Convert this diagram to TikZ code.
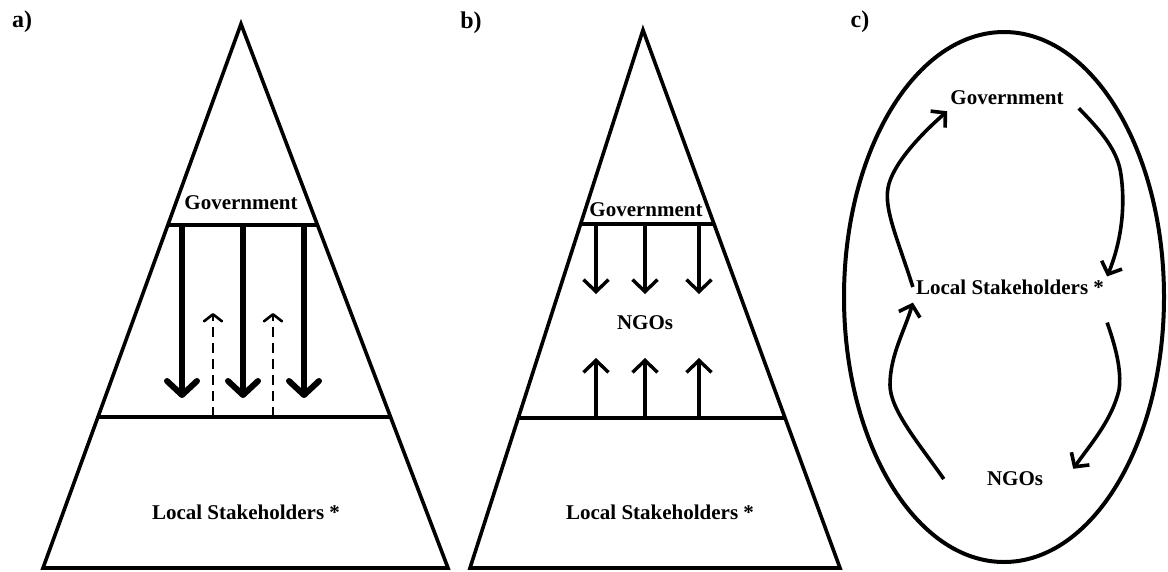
\documentclass[tikz,border=0pt]{standalone}
\usepackage{fontspec}
\setmainfont{Liberation Serif}
\usetikzlibrary{arrows.meta, calc}

\begin{document}
\begin{tikzpicture}[x=1pt, y=-1pt]
    \tikzstyle{lbl}  = [font=\fontsize{21}{24}\selectfont\bfseries, inner sep=3pt]
    \tikzstyle{pan}  = [font=\fontsize{24}{26}\selectfont\bfseries, inner sep=2pt]
    \tikzstyle{edge} = [line width=3.6pt, line join=miter]
    \tikzstyle{fat}  = [line width=6pt, -{Straight Barb[length=14pt, width=30pt, round]}]
    \tikzstyle{dsh}  = [line width=2.6pt, dash pattern=on 10pt off 6pt, -{Straight Barb[length=7pt, width=18pt, round]}]
    \tikzstyle{thin} = [line width=3.4pt, -{Straight Barb[length=12pt, width=25pt]}]
    \tikzstyle{loop} = [line width=3.6pt, -{Straight Barb[length=10pt, width=22pt]}]

    \useasboundingbox (0,0) rectangle (1168,571);

    % Etichetele panourilor
    \node[pan] (pa) at (22,22)  {a)};
    \node[pan] (pb) at (471,23) {b)};
    \node[pan] (pc) at (860,22) {c)};

    % a) piramida
    \coordinate (a1) at (241,24);
    \coordinate (a2) at (43,568);
    \coordinate (a3) at (448,568);
    \draw[edge] (a1) -- (a2) -- (a3) -- cycle;
    \draw[edge] ($(a1)!.37!(a2)$) -- ($(a1)!.37!(a3)$);
    \draw[edge] ($(a1)!.722!(a2)$) -- ($(a1)!.722!(a3)$);
    \node[lbl] (gova) at (241,203) {Government};
    \node[lbl] (loca) at (246,512) {Local Stakeholders *};

    % a) sagetile
    \foreach[count=\i] \x in {182,243,304} {
        \coordinate (ga\i) at (\x,225);
        \coordinate (sa\i) at (\x,398);
        \draw[fat] (ga\i) -- (sa\i);
    }
    \foreach[count=\i] \x in {213,273} {
        \coordinate (ua\i) at (\x,417);
        \coordinate (va\i) at (\x,313);
        \draw[dsh] (ua\i) -- (va\i);
    }

    % b) piramida
    \coordinate (b1) at (643,30);
    \coordinate (b2) at (470,568);
    \coordinate (b3) at (840,568);
    \draw[edge] (b1) -- (b2) -- (b3) -- cycle;
    \draw[edge] ($(b1)!.3606!(b2)$) -- ($(b1)!.3606!(b3)$);
    \draw[edge] ($(b1)!.7212!(b2)$) -- ($(b1)!.7212!(b3)$);
    \node[lbl] (govb) at (646,210) {Government};
    \node[lbl] (ngob) at (645,323) {NGOs};
    \node[lbl] (locb) at (660,512) {Local Stakeholders *};

    % b) sagetile
    \foreach[count=\i] \x in {596,645,699} {
        \coordinate (gb\i) at (\x,224);
        \coordinate (db\i) at (\x,294);
        \coordinate (lb\i) at (\x,418);
        \coordinate (ub\i) at (\x,358);
        \draw[thin] (gb\i) -- (db\i);
        \draw[thin] (lb\i) -- (ub\i);
    }

    % c) ciclul
    \draw[line width=4pt] (1004,297) ellipse [x radius=160pt, y radius=265pt];
    \node[lbl] (govc) at (1007,98)  {Government};
    \node[lbl] (locc) at (1010,287) {Local Stakeholders *};
    \node[lbl] (ngoc) at (1015,479) {NGOs};

    \draw[loop] (locc.west) .. controls (898,240) and (884,210) .. (888,188)
                .. controls (892,165) and (920,135) .. ([yshift=-3pt]govc.south west);
    \draw[loop] ([xshift=12pt]govc.south east) .. controls (1100,130) and (1118,150) .. (1121,175)
                .. controls (1126,210) and (1120,245) .. (locc.north east);
    \draw[loop] ([xshift=-40pt]ngoc.west) .. controls (920,445) and (890,410) .. (890,385)
                .. controls (890,355) and (905,330) .. ([yshift=-5pt]locc.south west);
    \draw[loop] ([yshift=-25pt]locc.south east) .. controls (1115,345) and (1122,370) .. (1119,390)
                .. controls (1112,420) and (1090,445) .. ([xshift=27pt]ngoc.north east);
\end{tikzpicture}
\end{document}
